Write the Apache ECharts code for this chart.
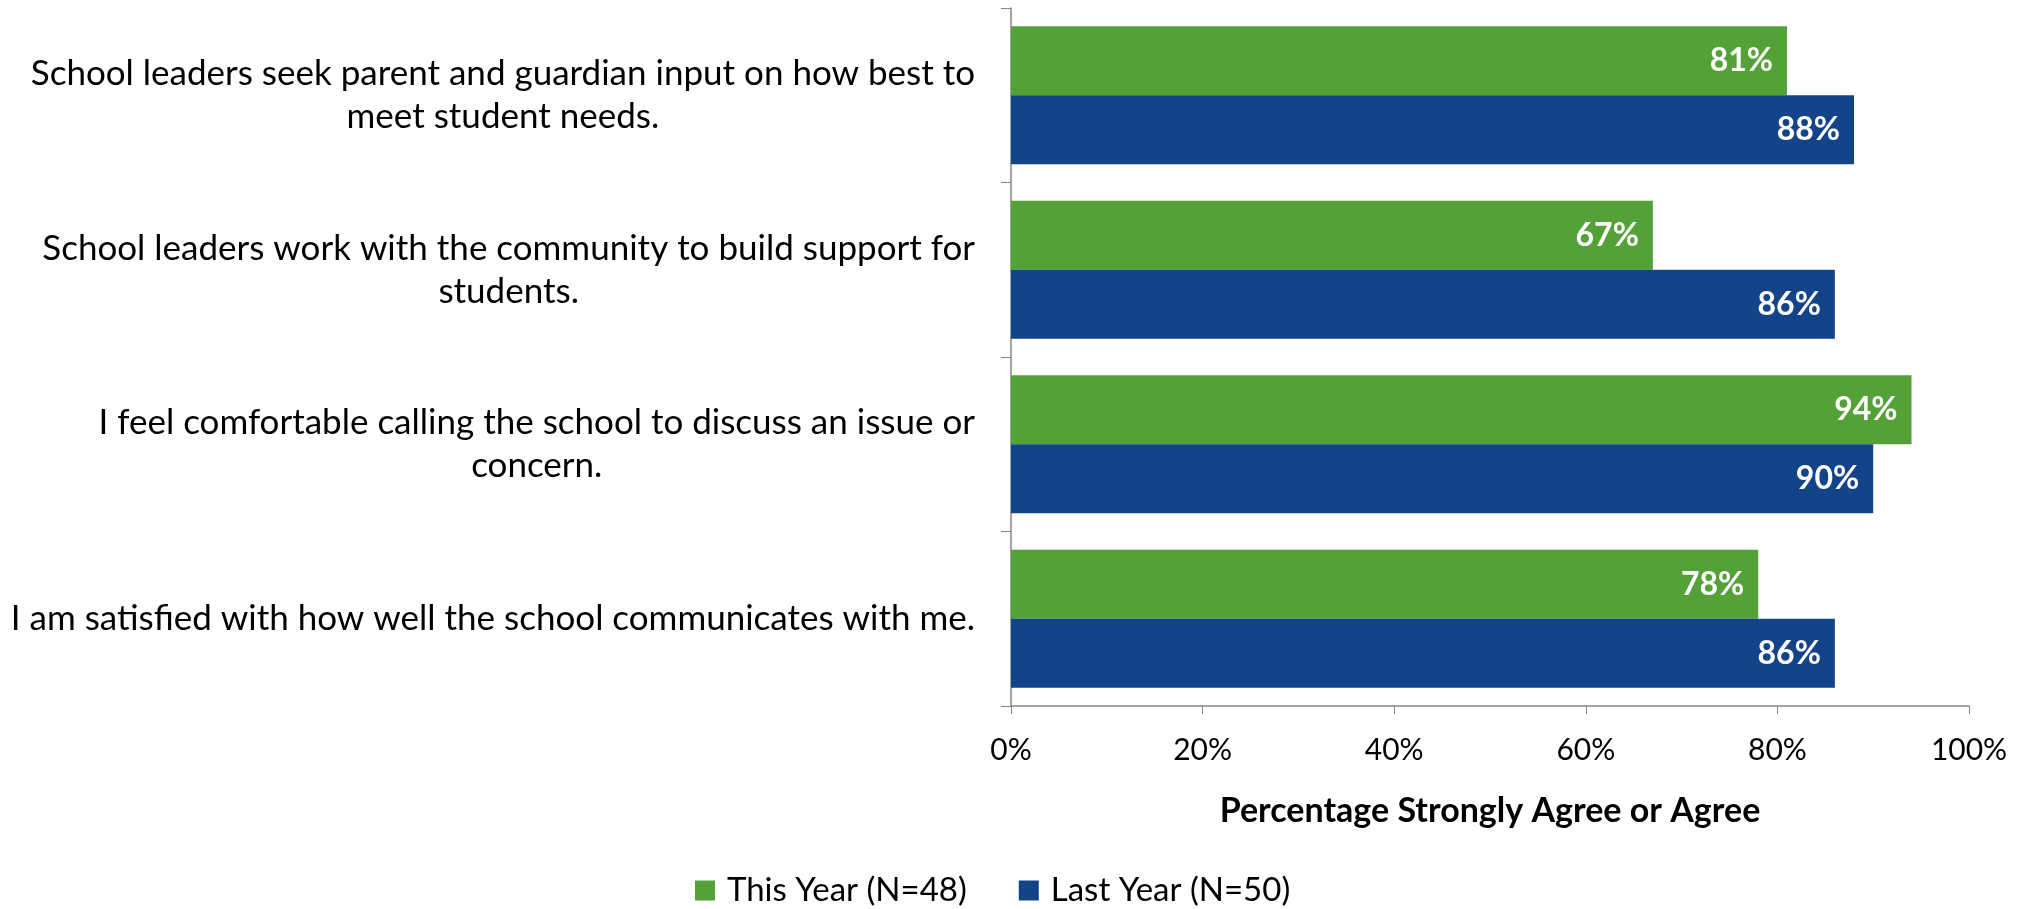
<!DOCTYPE html>
<html>
<head>
<meta charset="utf-8">
<script src="https://cdn.jsdelivr.net/npm/echarts@6/dist/echarts.min.js"></script>
<style>
html,body{margin:0;padding:0;background:#fff;}
#chart{width:2030px;height:909px;}
</style>
</head>
<body>
<div id="chart"></div>
<script>
const categories = [
  "School leaders seek parent and guardian input on how best to\nmeet student needs.",
  "School leaders work with the community to build support for\nstudents.",
  "I feel comfortable calling the school to discuss an issue or\nconcern.",
  "I am satisfied with how well the school communicates with me."
];
const thisYear = [81, 67, 94, 78];
const lastYear = [88, 86, 90, 86];
const seriesNames = ["This Year (N=48)", "Last Year (N=50)"];
const xTicks = [0, 20, 40, 60, 80, 100];
const xAxisTitle = "Percentage Strongly Agree or Agree";

const FONT = "Lato";
const chart = echarts.init(document.getElementById('chart'));
const barLabel = {
  show: true, position: 'insideRight', distance: 14,
  color: '#fff', fontWeight: 'bold', fontSize: 32, fontFamily: FONT,
  formatter: p => p.value + '%'
};
chart.setOption({
  animation: false,
  backgroundColor: '#fff',
  grid: {left: 1011, right: 61, top: 8, bottom: 203, containLabel: false},
  legend: {
    top: 869, left: 690, itemWidth: 20, itemHeight: 20, itemGap: 52,
    icon: 'rect',
    textStyle: {fontSize: 33, fontFamily: FONT, color: '#000', padding: [0, 0, 0, 7]},
    data: seriesNames
  },
  xAxis: {
    type: 'value', min: xTicks[0], max: xTicks[xTicks.length-1], interval: 20,
    axisLine: {show: true, lineStyle: {color: '#868686', width: 1.5}},
    axisTick: {show: true, length: 8, lineStyle: {color: '#868686'}},
    splitLine: {show: false},
    axisLabel: {formatter: '{value}%', fontSize: 30, fontFamily: FONT, color: '#000', margin: 29},
    name: xAxisTitle, nameLocation: 'middle', nameGap: 88,
    nameTextStyle: {fontSize: 34, fontWeight: 'bold', fontFamily: FONT, color: '#000'}
  },
  yAxis: {
    type: 'category', inverse: true, data: categories,
    axisLine: {show: true, lineStyle: {color: '#868686', width: 1.5}},
    axisTick: {show: true, length: 10, lineStyle: {color: '#868686'}},
    axisLabel: {
      margin: 36, color: '#000',
      formatter: v => v.split('\n').map(l => '{c|' + l + '}').join('\n'),
      rich: {c: {align: 'center', fontSize: 35, fontFamily: FONT, color: '#000', lineHeight: 43}}
    }
  },
  series: [
    {name: seriesNames[0], type: 'bar', data: thisYear, barCategoryGap: '21%', barGap: '0%',
     itemStyle: {color: '#54A138'}, label: barLabel},
    {name: seriesNames[1], type: 'bar', data: lastYear, barCategoryGap: '21%', barGap: '0%',
     itemStyle: {color: '#134389'}, label: barLabel}
  ]
});
</script>
</body>
</html>
